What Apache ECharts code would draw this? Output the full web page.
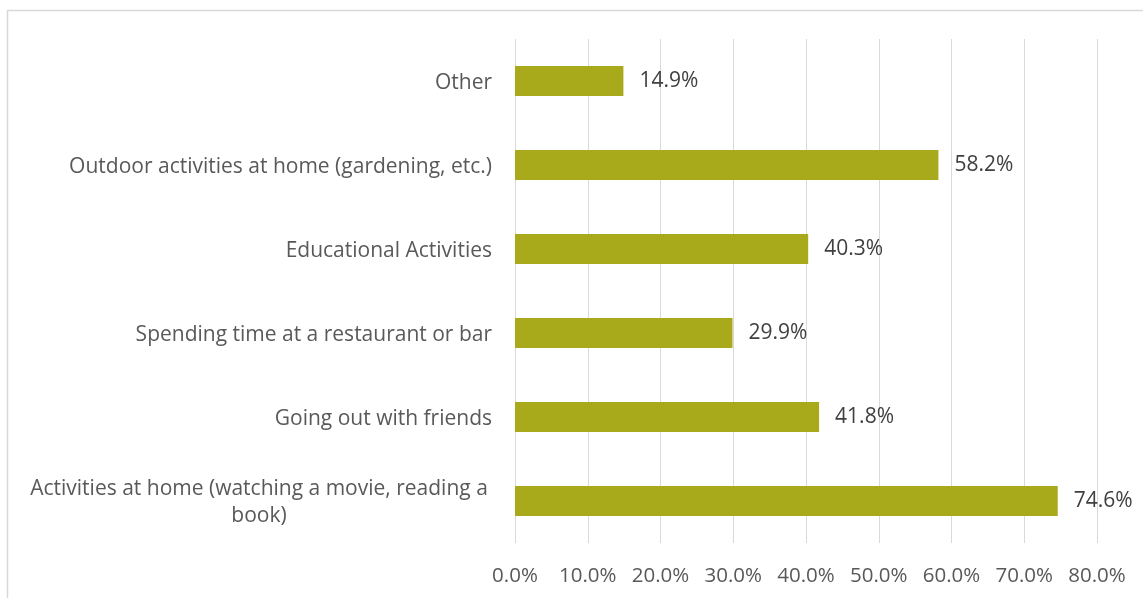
<!DOCTYPE html>
<html>
<head>
<meta charset="utf-8">
<script src="https://cdn.jsdelivr.net/npm/echarts@6/dist/echarts.min.js"></script>
<style>
  html, body { margin: 0; padding: 0; background: #fff; }
  #chart { width: 1143px; height: 598px; }
</style>
</head>
<body>
<div id="chart"></div>
<script>
// categories listed bottom -> top (category axis starts at the bottom)
const categories = [
  'Activities at home (watching a movie, reading a book)',
  'Going out with friends',
  'Spending time at a restaurant or bar',
  'Educational Activities',
  'Outdoor activities at home (gardening, etc.)',
  'Other'
]
const shares = [74.6, 41.8, 29.9, 40.3, 58.2, 14.9]
const tickMax = 80
const tickStep = 10

const chart = echarts.init(document.getElementById('chart'))

const option = {
  animation: false,
  textStyle: { fontFamily: 'Open Sans' },
  graphic: [
    {
      type: 'rect',
      shape: { x: 7.5, y: 10.5, width: 1200, height: 700 },
      style: { fill: 'none', stroke: '#d9d9d9', lineWidth: 1.5 },
      silent: true
    }
  ],
  grid: { left: 515, right: 46, top: 39, bottom: 55 },
  xAxis: {
    type: 'value',
    min: 0,
    max: tickMax,
    interval: tickStep,
    axisLine: { show: false },
    axisTick: { show: false },
    splitLine: { show: true, lineStyle: { color: '#d9d9d9', width: 1 } },
    axisLabel: {
      color: '#595959',
      fontSize: 20.5,
      margin: 23,
      formatter: v => v.toFixed(1) + '%'
    }
  },
  yAxis: {
    type: 'category',
    data: categories,
    axisLine: { show: false },
    axisTick: { show: false },
    axisLabel: {
      color: '#595959',
      fontSize: 21,
      margin: 23,
      padding: [4, 0, 0, 0],
      formatter: function (value) {
        // the long one wraps onto two centred lines, like the original
        if (value.length > 48) {
          const cut = value.lastIndexOf(' ', 48)
          return '{c|' + value.slice(0, cut) + '}\n{c|' + value.slice(cut + 1) + '}'
        }
        return value
      },
      rich: {
        c: { width: 466, align: 'center', fontSize: 21, color: '#595959', lineHeight: 27 }
      }
    }
  },
  series: [
    {
      type: 'bar',
      data: shares,
      barWidth: 30,
      itemStyle: { color: '#a8a91b' },
      label: {
        show: true,
        position: 'right',
        distance: 16,
        color: '#404040',
        fontSize: 21,
        formatter: p => p.value.toFixed(1) + '%'
      }
    }
  ]
}

chart.setOption(option)
</script>
</body>
</html>
